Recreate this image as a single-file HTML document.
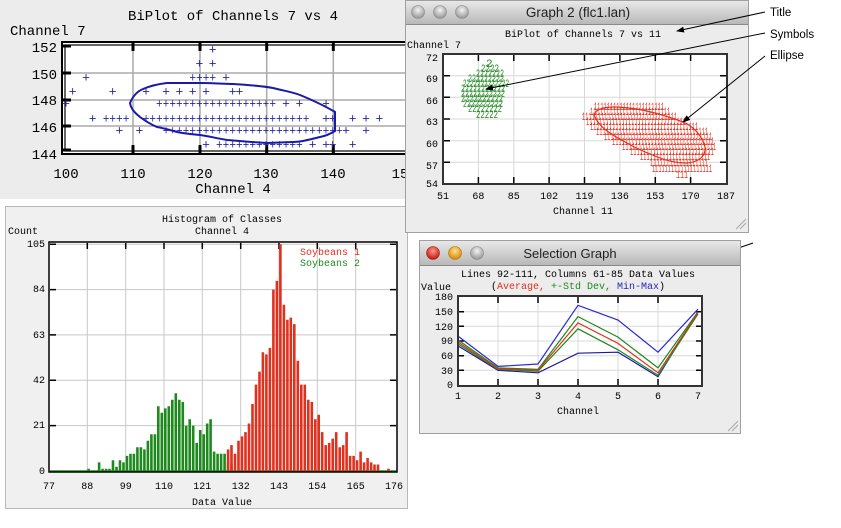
<!DOCTYPE html>
<html><head><meta charset="utf-8"><style>
html,body{margin:0;padding:0;background:#fff;width:841px;height:528px;overflow:hidden}
svg{display:block}
.m{font-family:"Liberation Mono","DejaVu Sans Mono",monospace}
.s{font-family:"Liberation Sans",sans-serif}
</style></head><body>
<svg width="841" height="528" viewBox="0 0 841 528" xmlns="http://www.w3.org/2000/svg">
<defs>
<linearGradient id="tb" x1="0" y1="0" x2="0" y2="1"><stop offset="0" stop-color="#e8e8e8"/><stop offset="1" stop-color="#b8b8b8"/></linearGradient>
<radialGradient id="gb" cx="0.5" cy="0.35" r="0.6"><stop offset="0" stop-color="#f4f4f4"/><stop offset="1" stop-color="#9a9a9a"/></radialGradient>
<radialGradient id="rb" cx="0.5" cy="0.35" r="0.6"><stop offset="0" stop-color="#ff9a8a"/><stop offset="1" stop-color="#c81a10"/></radialGradient>
<radialGradient id="ob" cx="0.5" cy="0.35" r="0.6"><stop offset="0" stop-color="#ffe08a"/><stop offset="1" stop-color="#d98a10"/></radialGradient>
<marker id="ar" markerWidth="8" markerHeight="6" refX="7" refY="3" orient="auto"><path d="M0,0 L8,3 L0,6 z" fill="#000"/></marker>
</defs>

<!-- ===== Biplot 7 vs 4 ===== -->
<rect x="0" y="0" width="406" height="199" fill="#ececec"/>
<text class="m" x="233" y="20" font-size="14" text-anchor="middle">BiPlot of Channels 7 vs 4</text>
<text class="m" x="10" y="35" font-size="14">Channel 7</text>
<rect x="62" y="42" width="344" height="112" fill="#fff"/>
<g stroke="#aaa" stroke-width="1.5">
<path d="M133 42V154M200 42V154M266.7 42V154M333.3 42V154M62 73H406M62 100H406M62 126H406"/>
</g>
<g stroke="#000" stroke-width="3">
<path d="M133 43v8M200 43v8M266.7 43v8M333.3 43v8M133 153v-8M200 153v-8M266.7 153v-8M333.3 153v-8M63 73h8M63 100h8M63 126h8M63 46h8M63 150h8"/>
</g>
<rect x="62" y="42" width="350" height="112" fill="none" stroke="#000" stroke-width="2"/>
<rect x="65" y="45" width="344" height="106" fill="none" stroke="#000" stroke-width="1.2"/>
<g class="m" font-size="14" text-anchor="end">
<text x="57" y="52">152</text><text x="57" y="79">150</text><text x="57" y="105">148</text><text x="57" y="132">146</text><text x="57" y="159">144</text>
</g>
<g class="m" font-size="14" text-anchor="middle">
<text x="66" y="178">100</text><text x="133" y="178">110</text><text x="200" y="178">120</text><text x="266" y="178">130</text><text x="333" y="178">140</text><text x="400" y="178">15</text>
<text x="233" y="193">Channel 4</text>
</g>
<g class="m" font-size="13" fill="#2626a0" text-anchor="middle">
<text x="212.7" y="53.5">+</text>
<text x="199.4" y="67.5">+</text><text x="212.7" y="67.5">+</text>
<text x="86" y="81.5">+</text><text x="226" y="81.5">+</text>
<text x="72.7" y="95.5">+</text><text x="112.7" y="95.5">+</text><text x="146" y="95.5">+</text><text x="166" y="95.5">+</text><text x="179.4" y="95.5">+</text><text x="192.7" y="95.5">+</text><text x="206" y="95.5">+</text><text x="232.7" y="95.5">+</text><text x="239.4" y="95.5">+</text>
<text x="66" y="107.5">+</text><text x="286" y="107.5">+</text><text x="299.4" y="107.5">+</text><text x="326" y="107.5">+</text>
<text x="92.7" y="122.5">+</text><text x="326" y="122.5">+</text><text x="332.7" y="122.5">+</text><text x="352.7" y="122.5">+</text><text x="366" y="122.5">+</text><text x="379.4" y="122.5">+</text>
<text x="119.4" y="134.5">+</text><text x="139.4" y="134.5">+</text><text x="346" y="134.5">+</text><text x="366" y="134.5">+</text>
<text x="206" y="148.5">+</text><text x="312.7" y="148.5">+</text><text x="326" y="148.5">+</text><text x="332.7" y="148.5">+</text><text x="352.7" y="148.5">+</text>
</g>
<g class="m" font-size="13" fill="#2626a0">
<text x="189.4" y="81.5" textLength="26.7" lengthAdjust="spacingAndGlyphs">++++</text>
<text x="156" y="107.5" textLength="120" lengthAdjust="spacingAndGlyphs">++++++++++++++++++</text>
<text x="102.7" y="122.5" textLength="26.7" lengthAdjust="spacingAndGlyphs">++++</text>
<text x="142.7" y="122.5" textLength="166.7" lengthAdjust="spacingAndGlyphs">+++++++++++++++++++++++++</text>
<text x="162.7" y="134.5" textLength="180" lengthAdjust="spacingAndGlyphs">+++++++++++++++++++++++++++</text>
<text x="216" y="148.5" textLength="86.7" lengthAdjust="spacingAndGlyphs">+++++++++++++</text>
</g>
<path d="M130 103 C133 96,138 91,143 89 C150 86,158 84,167 83 L200 83 C215 83,225 84,233 84 C250 85,262 86,273 88 C285 91,292 92,300 95 C312 100,325 106,335 112 L335 131 C330 134,326 136,320 137 C308 140,300 142,293 142 L267 143 C250 142,240 141,227 140 C215 138,208 136,200 135 C190 134,182 133,177 132 C170 130,163 128,157 127 C150 124,144 120,140 117 C135 113,131 109,130 103 Z" fill="none" stroke="#1a1aa8" stroke-width="2"/>

<!-- ===== Histogram ===== -->
<rect x="5.5" y="206.5" width="402" height="302" fill="#f0f0f0" stroke="#b8b8b8"/>
<text class="m" x="222" y="222" font-size="10" text-anchor="middle">Histogram of Classes</text>
<text class="m" x="222" y="234" font-size="10" text-anchor="middle">Channel 4</text>
<text class="m" x="8" y="234" font-size="10">Count</text>
<rect x="49" y="242" width="348" height="230" fill="#fff"/>
<g stroke="#c8c8c8" stroke-width="1">
<path d="M87.3 242V472M125.7 242V472M164 242V472M202.3 242V472M240.7 242V472M279 242V472M317.3 242V472M355.7 242V472M49 425.6H397M49 380.3H397M49 334.9H397M49 289.6H397M49 244.2H397"/>
</g>
<g stroke="#000" stroke-width="1.5">
<path d="M87.3 243v6M125.7 243v6M164 243v6M202.3 243v6M240.7 243v6M279 243v6M317.3 243v6M355.7 243v6M50 425.6h6M50 380.3h6M50 334.9h6M50 289.6h6M50 244.2h6M396 425.6h-6M396 380.3h-6M396 334.9h-6M396 289.6h-6M396 244.2h-6"/>
</g>
<path d="M50 471H396" stroke="#1e8a1e" stroke-width="1.5"/>
<path fill="#1e8a1e" d="M87.3 471v-2.2h2.6V471zM97.8 471v-8.6h2.6V471zM101.3 471v-2.2h2.6V471zM104.8 471v-2.2h2.6V471zM108.2 471v-2.2h2.6V471zM111.7 471v-10.8h2.6V471zM115.2 471v-4.3h2.6V471zM118.7 471v-10.8h2.6V471zM122.2 471v-8.6h2.6V471zM125.7 471v-15.1h2.6V471zM129.2 471v-17.3h2.6V471zM132.6 471v-17.3h2.6V471zM136.1 471v-23.8h2.6V471zM139.6 471v-23.8h2.6V471zM143.1 471v-21.6h2.6V471zM146.6 471v-30.2h2.6V471zM150.1 471v-36.7h2.6V471zM153.6 471v-36.7h2.6V471zM157 471v-64.8h2.6V471zM160.5 471v-58.3h2.6V471zM164 471v-62.6h2.6V471zM167.5 471v-64.8h2.6V471zM171 471v-71.3h2.6V471zM174.5 471v-77.8h2.6V471zM178 471v-71.3h2.6V471zM181.5 471v-69.1h2.6V471zM184.9 471v-45.4h2.6V471zM188.4 471v-51.8h2.6V471zM191.9 471v-45.4h2.6V471zM195.4 471v-28.1h2.6V471zM198.9 471v-41h2.6V471zM202.4 471v-36.7h2.6V471zM205.9 471v-47.5h2.6V471zM209.3 471v-51.8h2.6V471zM212.8 471v-19.4h2.6V471zM216.3 471v-17.3h2.6V471zM219.8 471v-17.3h2.6V471zM223.3 471v-17.3h2.6V471zM226.8 471v-8.6h2.6V471zM230.2 471v-6.5h2.6V471z"/>
<path fill="#e0301e" d="M226.8 471v-21.6h2.6V471zM230.2 471v-25.9h2.6V471zM233.7 471v-17.3h2.6V471zM237.2 471v-30.2h2.6V471zM240.7 471v-34.6h2.6V471zM244.2 471v-38.9h2.6V471zM247.7 471v-47.5h2.6V471zM251.2 471v-67h2.6V471zM254.7 471v-86.4h2.6V471zM258.2 471v-99.4h2.6V471zM261.6 471v-118.8h2.6V471zM265.1 471v-116.6h2.6V471zM268.6 471v-123.1h2.6V471zM272.1 471v-181.4h2.6V471zM275.6 471v-190.1h2.6V471zM279.1 471v-226.8h2.6V471zM282.6 471v-166.3h2.6V471zM286.1 471v-151.2h2.6V471zM289.5 471v-153.4h2.6V471zM293 471v-146.9h2.6V471zM296.5 471v-110.2h2.6V471zM300 471v-86.4h2.6V471zM303.5 471v-86.4h2.6V471zM307 471v-71.3h2.6V471zM310.5 471v-69.1h2.6V471zM314 471v-51.8h2.6V471zM317.4 471v-56.2h2.6V471zM320.9 471v-38.9h2.6V471zM324.4 471v-25.9h2.6V471zM327.9 471v-28.1h2.6V471zM331.4 471v-32.4h2.6V471zM334.9 471v-38.9h2.6V471zM338.4 471v-23.8h2.6V471zM341.9 471v-25.9h2.6V471zM345.3 471v-38.9h2.6V471zM348.8 471v-15.1h2.6V471zM352.3 471v-15.1h2.6V471zM355.8 471v-10.8h2.6V471zM359.3 471v-19.4h2.6V471zM362.8 471v-8.6h2.6V471zM366.3 471v-13h2.6V471zM369.8 471v-8.6h2.6V471zM373.2 471v-6.5h2.6V471zM376.7 471v-6.5h2.6V471zM387.2 471v-2.2h2.6V471z"/>
<rect x="49" y="242" width="348" height="230" fill="none" stroke="#000" stroke-width="1.5"/>
<text class="m" x="300" y="255" font-size="10" fill="#e0301e">Soybeans 1</text>
<text class="m" x="300" y="266" font-size="10" fill="#1e8a1e">Soybeans 2</text>
<g class="m" font-size="10" text-anchor="end">
<text x="45" y="247">105</text><text x="45" y="292">84</text><text x="45" y="338">63</text><text x="45" y="383">42</text><text x="45" y="428">21</text><text x="45" y="474">0</text>
</g>
<g class="m" font-size="10" text-anchor="middle">
<text x="49" y="489">77</text><text x="87.3" y="489">88</text><text x="125.7" y="489">99</text><text x="164" y="489">110</text><text x="202.3" y="489">121</text><text x="240.7" y="489">132</text><text x="279" y="489">143</text><text x="317.3" y="489">154</text><text x="355.7" y="489">165</text><text x="394" y="489">176</text>
<text x="222" y="505">Data Value</text>
</g>

<!-- ===== Graph 2 window ===== -->
<rect x="405.5" y="0.5" width="343" height="232" fill="#ececec" stroke="#a0a0a0"/>
<rect x="406" y="1" width="342" height="23" fill="url(#tb)"/>
<path d="M406 24.5H748" stroke="#8a8a8a"/>
<circle cx="418" cy="12" r="6.5" fill="url(#gb)" stroke="#888" stroke-width="0.6"/>
<circle cx="440" cy="12" r="6.5" fill="url(#gb)" stroke="#888" stroke-width="0.6"/>
<circle cx="462" cy="12" r="6.5" fill="url(#gb)" stroke="#888" stroke-width="0.6"/>
<text class="s" x="578" y="17" font-size="13.5" text-anchor="middle" fill="#222">Graph 2 (flc1.lan)</text>
<text class="m" x="583" y="37" font-size="10" text-anchor="middle">BiPlot of Channels 7 vs 11</text>
<text class="m" x="407" y="48" font-size="10">Channel 7</text>
<rect x="443" y="54" width="284" height="130" fill="#fff"/>
<g stroke="#d8d8d8" stroke-width="1">
<path d="M478.4 54V184M513.8 54V184M549.1 54V184M584.5 54V184M619.9 54V184M655.3 54V184M690.6 54V184M443 75.7H727M443 97.3H727M443 119H727M443 140.7H727M443 162.3H727"/>
</g>
<g stroke="#000" stroke-width="1.5">
<path d="M478.4 55v6M513.8 55v6M549.1 55v6M584.5 55v6M619.9 55v6M655.3 55v6M690.6 55v6M478.4 183v-6M513.8 183v-6M549.1 183v-6M584.5 183v-6M619.9 183v-6M655.3 183v-6M690.6 183v-6M444 75.7h6M444 97.3h6M444 119h6M444 140.7h6M444 162.3h6M726 75.7h-6M726 97.3h-6M726 119h-6M726 140.7h-6M726 162.3h-6"/>
</g>
<rect x="443" y="54" width="284" height="130" fill="none" stroke="#333" stroke-width="2"/>
<g class="m" font-size="11" fill="#1e8a1e">
<text x="486" y="67">2</text>
<text x="481" y="72" textLength="18" lengthAdjust="spacingAndGlyphs">2222</text>
<text x="476" y="77" textLength="28" lengthAdjust="spacingAndGlyphs">2222222</text>
<text x="468" y="82" textLength="36" lengthAdjust="spacingAndGlyphs">222222222</text>
<text x="463" y="87" textLength="46" lengthAdjust="spacingAndGlyphs">2222222222222</text>
<text x="461" y="92" textLength="44" lengthAdjust="spacingAndGlyphs">22222222222</text>
<text x="461" y="97" textLength="44" lengthAdjust="spacingAndGlyphs">22222222222</text>
<text x="461" y="102" textLength="42" lengthAdjust="spacingAndGlyphs">2222222222</text>
<text x="463" y="107" textLength="40" lengthAdjust="spacingAndGlyphs">2222222222</text>
<text x="468" y="112" textLength="34" lengthAdjust="spacingAndGlyphs">22222222</text>
<text x="476" y="118" textLength="22" lengthAdjust="spacingAndGlyphs">22222</text>
</g>
<g class="m" font-size="11" fill="#e0301e">
<text x="594" y="110" textLength="70" lengthAdjust="spacingAndGlyphs">1111111111111111111111</text>
<text x="590" y="115" textLength="80" lengthAdjust="spacingAndGlyphs">1111111111111111111111111</text>
<text x="582" y="120" textLength="95" lengthAdjust="spacingAndGlyphs">111111111111111111111111111111</text>
<text x="586" y="125" textLength="100" lengthAdjust="spacingAndGlyphs">1111111111111111111111111111111</text>
<text x="590" y="130" textLength="108" lengthAdjust="spacingAndGlyphs">1111111111111111111111111111111111</text>
<text x="596" y="135" textLength="112" lengthAdjust="spacingAndGlyphs">11111111111111111111111111111111111</text>
<text x="604" y="140" textLength="108" lengthAdjust="spacingAndGlyphs">1111111111111111111111111111111111</text>
<text x="612" y="145" textLength="102" lengthAdjust="spacingAndGlyphs">11111111111111111111111111111111</text>
<text x="622" y="150" textLength="94" lengthAdjust="spacingAndGlyphs">11111111111111111111111111111</text>
<text x="630" y="155" textLength="84" lengthAdjust="spacingAndGlyphs">11111111111111111111111111</text>
<text x="640" y="160" textLength="70" lengthAdjust="spacingAndGlyphs">1111111111111111111111</text>
<text x="650" y="166" textLength="58" lengthAdjust="spacingAndGlyphs">111111111111111111</text>
<text x="652" y="172" textLength="60" lengthAdjust="spacingAndGlyphs">1111111111111111111</text>
<text x="676" y="178" textLength="12" lengthAdjust="spacingAndGlyphs">111</text>
</g>
<path d="M595 117 C592 112,600 107,613 107 C630 107,650 110,683 122 C695 127,703 138,705 147 C706 155,700 162,687 163 C675 163,665 160,660 158 C645 152,635 148,627 143 C612 135,600 128,595 117 Z" fill="none" stroke="#e0301e" stroke-width="1.2"/>
<g class="m" font-size="10" text-anchor="end">
<text x="438" y="61">72</text><text x="438" y="82">69</text><text x="438" y="104">66</text><text x="438" y="125">63</text><text x="438" y="147">60</text><text x="438" y="169">57</text><text x="438" y="187">54</text>
</g>
<g class="m" font-size="10" text-anchor="middle">
<text x="443" y="199">51</text><text x="478.4" y="199">68</text><text x="513.8" y="199">85</text><text x="549.1" y="199">102</text><text x="584.5" y="199">119</text><text x="619.9" y="199">136</text><text x="655.3" y="199">153</text><text x="690.6" y="199">170</text><text x="726" y="199">187</text>
<text x="583" y="214">Channel 11</text>
</g>
<path d="M736 229L746 219M740 229L746 223" stroke="#aaa"/>

<!-- Annotations -->
<g class="s" font-size="11.5" fill="#000">
<text x="770" y="16">Title</text>
<text x="770" y="38">Symbols</text>
<text x="770" y="59">Ellipse</text>
</g>
<g stroke="#000" stroke-width="1" fill="none" marker-end="url(#ar)">
<path d="M765 12L677 31"/>
<path d="M765 33L486 89"/>
<path d="M765 56L683 122"/>
<path d="M753 243L663 274"/>
</g>

<!-- ===== Selection Graph window ===== -->
<rect x="419.5" y="240.5" width="321" height="193" fill="#ececec" stroke="#a0a0a0"/>
<rect x="420" y="241" width="320" height="24" fill="url(#tb)"/>
<path d="M420 265.5H740" stroke="#8a8a8a"/>
<circle cx="433" cy="253" r="6.5" fill="url(#rb)" stroke="#922" stroke-width="0.6"/>
<circle cx="455" cy="253" r="6.5" fill="url(#ob)" stroke="#a70" stroke-width="0.6"/>
<circle cx="477" cy="253" r="6.5" fill="url(#gb)" stroke="#888" stroke-width="0.6"/>
<text class="s" x="570" y="258" font-size="13" text-anchor="middle" fill="#222">Selection Graph</text>
<text class="m" x="578" y="277" font-size="10" text-anchor="middle">Lines 92-111, Columns 61-85 Data Values</text>
<text class="m" x="578" y="289" font-size="10" text-anchor="middle">(<tspan fill="#e0301e">Average, </tspan><tspan fill="#1e8a1e">+-Std Dev, </tspan><tspan fill="#2626c0">Min-Max</tspan>)</text>
<text class="m" x="421" y="290" font-size="10">Value</text>
<rect x="458" y="296" width="244" height="90" fill="#fff"/>
<g stroke="#d8d8d8" stroke-width="1">
<path d="M498 296V386M538 296V386M578 296V386M618 296V386M658 296V386M458 311.7H702M458 326.3H702M458 341H702M458 355.7H702M458 370.3H702"/>
</g>
<g stroke="#000" stroke-width="1.5">
<path d="M498 297v6M538 297v6M578 297v6M618 297v6M658 297v6M498 385v-6M538 385v-6M578 385v-6M618 385v-6M658 385v-6M459 311.7h5M459 326.3h5M459 341h5M459 355.7h5M459 370.3h5M701 311.7h-5M701 326.3h-5M701 341h-5M701 355.7h-5M701 370.3h-5"/>
</g>
<g fill="none" stroke-width="1.2">
<polyline stroke="#2a2ad0" points="458,336.1 498,366.4 538,364 578,305.3 618,320 658,352.2 698,309.2"/>
<polyline stroke="#1a1aa0" points="458,345.9 498,370.3 538,372.8 578,353.2 618,352.2 658,376.7 698,311.7"/>
<polyline stroke="#1e8a1e" points="458,340 498,367.9 538,369.4 578,316.6 618,337.1 658,367.9 698,311.7"/>
<polyline stroke="#1e8a1e" points="458,343.9 498,369.4 538,371.3 578,328.8 618,349.8 658,375.2 698,314.1"/>
<polyline stroke="#e0301e" points="458,342 498,368.9 538,370.3 578,322.9 618,343.4 658,372.8 698,312.6"/>
</g>
<rect x="458" y="296" width="244" height="90" fill="none" stroke="#333" stroke-width="2"/>
<g class="m" font-size="10" text-anchor="end">
<text x="453" y="300">180</text><text x="453" y="315">150</text><text x="453" y="330">120</text><text x="453" y="344">90</text><text x="453" y="359">60</text><text x="453" y="374">30</text><text x="453" y="388">0</text>
</g>
<g class="m" font-size="10" text-anchor="middle">
<text x="458" y="399">1</text><text x="498" y="399">2</text><text x="538" y="399">3</text><text x="578" y="399">4</text><text x="618" y="399">5</text><text x="658" y="399">6</text><text x="698" y="399">7</text>
<text x="578" y="414">Channel</text>
</g>
<path d="M728 431L738 421M732 431L738 425" stroke="#aaa"/>
</svg>
</body></html>
